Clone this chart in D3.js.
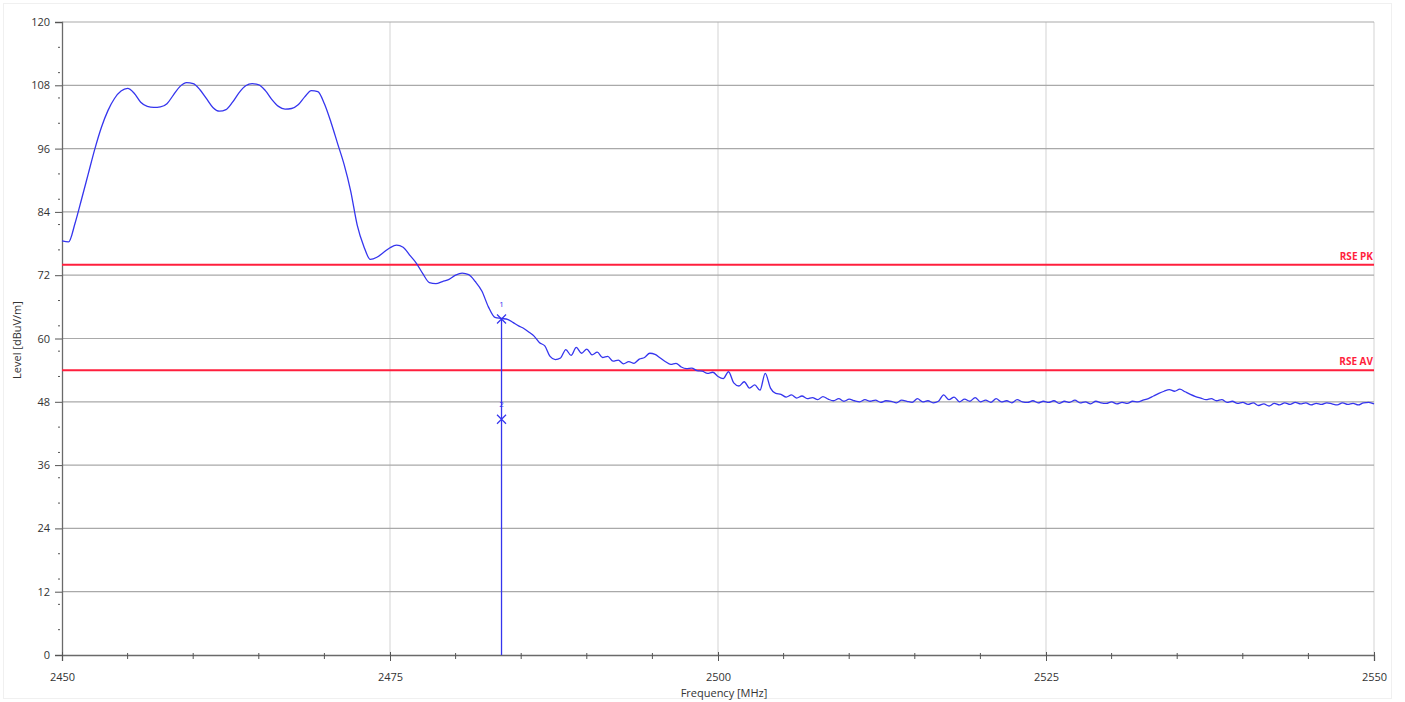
<!DOCTYPE html>
<html><head><meta charset="utf-8">
<script src="https://cdn.jsdelivr.net/npm/d3@7"></script>
<style>body{margin:0;background:#fff}svg{display:block}text{font-family:"Open Sans","Liberation Sans",sans-serif}</style>
</head><body><svg id="c" width="1405" height="702"></svg>
<script>
// ---- data ----
const xTicks = [2450, 2475, 2500, 2525, 2550];
const yTicks = [0, 12, 24, 36, 48, 60, 72, 84, 96, 108, 120];
// smooth part: 2450 .. 2483.5 step 0.5 MHz
const sweep1Start = 2450, sweep1Step = 0.5;
const sweep1Level = [78.5,78.3,81.9,86.5,91.2,95.9,100.0,103.2,105.5,106.9,107.4,106.5,104.8,104.0,103.8,103.9,104.5,106.2,107.8,108.5,108.3,107.2,105.5,103.8,103.1,103.4,104.8,106.6,107.9,108.3,108.1,107.0,105.3,104.0,103.5,103.6,104.3,105.8,107.0,106.8,104.5,101.0,97.0,93.0,88.0,81.5,77.5,75.0,75.4,76.3,77.2,77.7,77.3,75.8,74.3,72.3,70.6,70.4,70.8,71.2,72.0,72.4,72.1,70.8,69.0,66.0,64.0,63.8];
// noisy part: 2484.0 .. 2550.0 step 0.4 MHz
const sweep2Start = 2484, sweep2Step = 0.4;
const sweep2Level = [63.6,63.0,62.4,61.9,61.2,60.4,59.2,58.6,56.6,56.0,56.3,57.9,56.8,58.3,57.2,58.0,56.9,57.4,56.4,56.6,55.7,55.9,55.2,55.6,55.3,56.1,56.4,57.2,57.0,56.3,55.6,55.1,55.3,54.6,54.3,54.4,53.9,53.8,53.4,53.6,52.8,52.4,53.7,51.6,51.0,51.8,50.6,51.2,50.2,53.4,50.6,49.6,49.4,48.9,49.3,48.7,49.1,48.6,48.8,48.4,49.0,48.5,48.2,48.6,48.1,48.5,48.2,48.0,48.4,48.1,48.3,47.9,48.2,48.1,47.8,48.3,48.1,47.9,48.6,48.0,48.2,47.8,48.1,49.3,48.4,48.9,48.0,48.5,48.1,48.8,48.0,48.3,47.9,48.6,48.0,48.2,47.8,48.4,48.0,47.9,48.2,47.8,48.1,47.9,48.2,47.7,48.1,47.9,48.3,47.8,48.0,47.6,48.1,47.8,47.7,48.0,47.6,47.9,47.7,48.1,48.0,48.3,48.6,49.1,49.6,50.0,50.3,50.0,50.4,49.9,49.4,49.0,48.7,48.4,48.6,48.2,48.4,47.9,48.1,47.7,47.9,47.5,47.8,47.3,47.6,47.2,47.7,47.4,47.8,47.5,47.9,47.6,47.8,47.4,47.7,47.5,47.8,47.6,47.4,47.8,47.5,47.7,47.4,47.8,47.9,47.6];
const limitNames = ["RSE PK", "RSE AV"];
const limitValues = [74, 54];
const markerNames = ["1", "2"];
const markerFreq = [2483.5, 2483.5];
const markerLevel = [63.7, 44.7];

// ---- layout ----
const svg = d3.select("#c");
const L = 62, R = 1374, T = 22, B = 655;
const x = d3.scaleLinear().domain([2450, 2550]).range([L, R]);
const y = d3.scaleLinear().domain([0, 120]).range([B, T]);

svg.append("rect").attr("x",3.5).attr("y",3.5).attr("width",1388).attr("height",695)
  .attr("fill","none").attr("stroke","#f0f0f0");

svg.append("g").selectAll("line").data(xTicks.slice(1)).join("line")
  .attr("x1",d=>x(d)).attr("x2",d=>x(d)).attr("y1",T).attr("y2",B)
  .attr("stroke","#dadada").attr("stroke-width",1.2);
svg.append("g").selectAll("line").data(yTicks.slice(1)).join("line")
  .attr("x1",L).attr("x2",R).attr("y1",d=>y(d)).attr("y2",d=>y(d))
  .attr("stroke","#a9a9a9").attr("stroke-width",1.2);

const yAxis = d3.axisLeft(y).tickValues(yTicks).tickSize(7).tickPadding(5).tickFormat(d3.format("d"));
const gy = svg.append("g").attr("transform",`translate(${L},0)`).call(yAxis);
const xAxis = d3.axisBottom(x).tickValues(xTicks).tickSize(6).tickPadding(12).tickFormat(d3.format("d"));
const gx = svg.append("g").attr("transform",`translate(0,${B})`).call(xAxis);
[gy,gx].forEach(g=>{
  g.select(".domain").attr("stroke","#6a6a6a").attr("stroke-width",1.3);
  g.selectAll(".tick line").attr("stroke","#555");
  g.selectAll(".tick text").attr("fill","#333").attr("font-size",11);
});
gx.selectAll(".tick line").attr("y1",-3);
const yMinor = d3.range(0, 120.01, 4.8).filter(v=>Math.abs(v/12-Math.round(v/12))>0.01);
svg.append("g").selectAll("line").data(yMinor).join("line")
  .attr("x1",L-4).attr("x2",L-2).attr("y1",d=>y(d)).attr("y2",d=>y(d)).attr("stroke","#555");
const xMinor = d3.range(2455, 2550, 5).filter(v=>v%25!==0);
svg.append("g").selectAll("line").data(xMinor).join("line")
  .attr("x1",d=>x(d)).attr("x2",d=>x(d)).attr("y1",B-2).attr("y2",B+4).attr("stroke","#555");

svg.append("text").attr("x",(L+R)/2+6).attr("y",697).attr("text-anchor","middle")
  .attr("font-size",11).attr("fill","#333").text("Frequency [MHz]");
svg.append("text").attr("transform","translate(21,340) rotate(-90)").attr("text-anchor","middle")
  .attr("font-size",11).attr("fill","#333").text("Level [dBuV/m]");

limitValues.forEach((v,i)=>{
  svg.append("line").attr("x1",L).attr("x2",R).attr("y1",y(v)).attr("y2",y(v))
    .attr("stroke","#ff1f3d").attr("stroke-width",2);
  svg.append("text").attr("x",R-1).attr("y",y(v)-5).attr("text-anchor","end")
    .attr("font-size",10).attr("font-weight","bold").attr("fill","#ff1f3d").text(limitNames[i]);
});

const pts = sweep1Level.map((v,i)=>[sweep1Start+i*sweep1Step, v])
  .concat(sweep2Level.map((v,i)=>[sweep2Start+i*sweep2Step, v]));
const line = d3.line().x(d=>x(d[0])).y(d=>y(d[1])).curve(d3.curveMonotoneX);
svg.append("path").datum(pts).attr("d",line).attr("fill","none")
  .attr("stroke","#3535ee").attr("stroke-width",1.3);

svg.append("line").attr("x1",x(markerFreq[0])).attr("x2",x(markerFreq[0]))
  .attr("y1",y(markerLevel[0])).attr("y2",B).attr("stroke","#3535ee").attr("stroke-width",1.3);
markerNames.forEach((n,i)=>{
  const cx = x(markerFreq[i]), cy = y(markerLevel[i]), s = 4.5;
  svg.append("path").attr("d",`M${cx-s},${cy-s}L${cx+s},${cy+s}M${cx-s},${cy+s}L${cx+s},${cy-s}`)
    .attr("stroke","#3535ee").attr("stroke-width",1.2);
  svg.append("text").attr("x",cx).attr("y",cy-12).attr("text-anchor","middle")
    .attr("font-size",8).attr("fill","#3535ee").text(n);
});
</script></body></html>
